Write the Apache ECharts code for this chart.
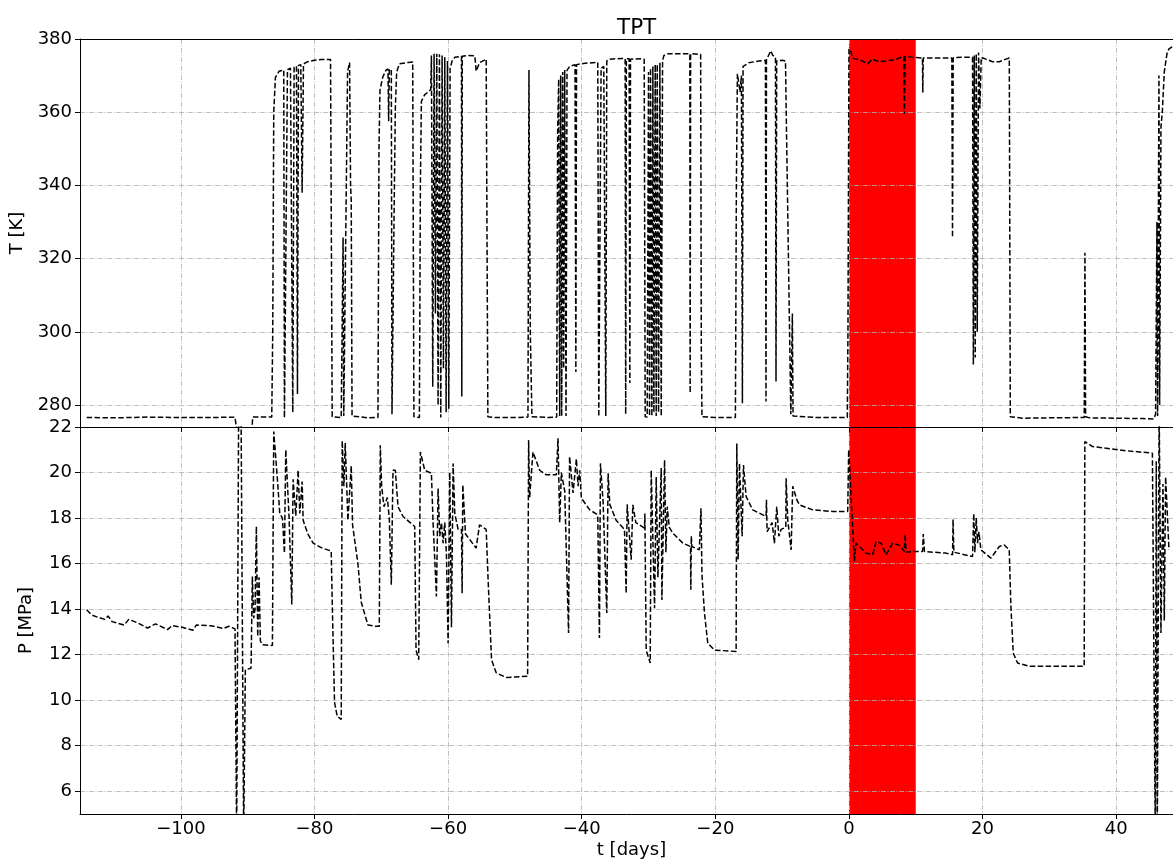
<!DOCTYPE html>
<html><head><meta charset="utf-8">
<script src="https://cdn.jsdelivr.net/npm/echarts@6/dist/echarts.min.js"></script>
<style>html,body{margin:0;padding:0;background:#fff}#c{width:1173px;height:862px}</style>
</head><body><div id="c"></div>
<script>
// ---- data ----
const tempTimes = [-114.1,-110,-105,-100,-95,-91.9,-91.7,-91.55,-89.4,-89.25,-86.4,-86.25,-86.1,-85.85,-85.3,-84.6,-84.5,-84.25,-84.05,-83.6,-83.35,-83.25,-83.05,-82.7,-82.55,-82.4,-82.05,-81.85,-81.65,-81,-80,-79,-77.6,-77.35,-76,-75.8,-75.72,-75.62,-75.35,-75.05,-74.75,-74.6,-74.5,-74.38,-72,-70.5,-70.35,-70.2,-69.8,-69.3,-69.0,-68.9,-68.8,-68.5,-68.4,-68.1,-67.9,-67.7,-67.3,-66,-65.3,-65.12,-64.3,-64.15,-64.0,-63.5,-63.0,-62.6,-62.5,-62.3,-62.1,-61.9,-61.7,-61.5,-61.3,-61.1,-60.9,-60.7,-60.5,-60.3,-60.1,-59.9,-59.7,-59.4,-59,-58,-57.95,-57.88,-57,-56,-55.8,-55.3,-54.3,-54.05,-53,-50,-48.05,-47.9,-47.7,-47.45,-45,-43.75,-43.6,-43.45,-43.3,-43.15,-43.0,-42.85,-42.7,-42.55,-42.35,-42.2,-41.8,-41.0,-40.88,-40.78,-39.5,-37.6,-37.45,-37.3,-37.1,-36.7,-36.4,-36.25,-35.8,-34,-33.5,-33.42,-33.32,-32.9,-32.8,-32.7,-31,-30.65,-30.5,-30.2,-30.0,-29.85,-29.7,-29.5,-29.35,-29.2,-29.0,-28.85,-28.7,-28.5,-28.3,-28.1,-27.9,-27.7,-27,-25,-23.82,-23.77,-23.7,-22.2,-22.1,-22.0,-20,-17,-16.85,-16.7,-16.5,-16.3,-16.1,-15.95,-15.85,-15.0,-13.5,-12.5,-12.42,-12.35,-11.7,-11.4,-11.0,-10.92,-10.82,-10,-9.5,-9.4,-8.7,-8.6,-8.47,-8.37,-5,-2,-0.25,-0.15,0.0,0.3,0.5,1.2,2,2.8,3.5,4.5,5.5,7,8.2,8.3,8.4,9.5,11.0,11.05,11.12,13,15.4,15.5,15.6,17,18.5,18.62,18.75,18.9,19.05,19.2,19.4,19.6,19.8,20.5,21.5,22.5,23.5,24.0,24.15,26,30,35.22,35.32,35.42,36,40,44,45.6,45.9,46.1,46.2,46.4,46.5,46.7,46.9,47.2,47.6,47.9,48.5];
const tempValues = [276.6,276.5,276.7,276.6,276.6,276.7,276.2,272,272,276.7,276.7,300,360,369.5,371.2,371.5,276.5,276.8,371.6,372,372.2,278,372.3,372.6,283,372.8,373,338,373.2,373.8,374.2,374.4,374.4,276.8,276.6,277,325.8,277,276.8,371,373.6,340,336,277,276.5,276.6,350,366,369.5,371.5,371.8,357.5,371.5,371.8,277.5,330,361,371,373.2,373.6,373.7,276.8,276.6,340,363,364.8,365.5,366.2,375.5,285,376,305,376,280,375.8,276.6,375.5,290,375,278,374,279,372,374,375,375.3,282.3,375.3,375.5,375.4,371.2,373.5,374.5,276.8,276.6,276.6,276.7,371.5,300,276.8,276.6,276.7,355,369,277,370,277,371,290,371.5,277,371.5,372.5,373,289,373,373.4,373.6,276.8,277,372,372.5,277,374,374.5,374.7,374.6,277.5,374.6,374.6,286,374.5,374.6,374.5,276.8,276.7,371,277,372,277,372.5,278,373,277,373,278,373.5,277,374,375.5,376,376,376,283.3,376,375.8,295,276.8,276.6,276.6,340,370.5,368,365.5,370,280.5,372.5,373.5,374,374.2,281,374.3,376.8,375.5,375,286.4,374,374.2,374,361,277.5,277,305,277,276.6,276.6,276.6,300,377.3,376.5,374.8,374.5,374,373.2,374.5,373.8,374,374.4,375.3,359.5,375.2,375,374.8,365.4,374.8,374.8,374.8,325.8,374.9,375,375,291,375.5,293,376,300,376.3,361,375,374.5,373.8,373.8,374.5,374.8,276.8,276.4,276.5,276.6,321.6,276.8,276.5,276.4,276.3,276.2,277.5,330,277,370,280,356,360,371,376,377.3,378];

const presTimes = [-114.1,-113.4,-112.5,-111.4,-110.9,-110.3,-108.5,-107.8,-106.5,-105,-103.8,-102,-101.3,-99.8,-98.2,-97.7,-95.5,-93.6,-92.8,-91.9,-91.65,-91.35,-91.0,-90.6,-90.4,-90.35,-89.5,-89.3,-89.1,-88.9,-88.7,-88.5,-88.3,-88.1,-87.8,-86.3,-86.1,-85.5,-85.2,-84.8,-84.5,-84.3,-83.8,-83.4,-83.2,-82.8,-82.45,-82.2,-81.85,-81.7,-81,-80.2,-79,-77.5,-77.3,-77.0,-76.6,-76.0,-75.85,-75.6,-75.4,-75.0,-74.5,-74.3,-73.5,-73.0,-72.0,-71,-70.3,-70.15,-69.95,-69.6,-69.1,-68.8,-68.5,-68.25,-67.9,-67.5,-66.75,-65.0,-64.8,-64.4,-64.15,-63.5,-62.5,-62.25,-61.75,-61.5,-61.25,-61.0,-60.75,-60.5,-60.25,-60.0,-59.75,-59.5,-59.25,-59.0,-58.5,-58.0,-57.9,-57.8,-57.4,-55.8,-55.3,-54.3,-54.0,-53.5,-52.8,-51.3,-48.1,-47.95,-47.8,-47.3,-46.3,-45.3,-43.8,-43.55,-43.3,-43.05,-42.55,-41.97,-41.82,-41.3,-40.8,-40.55,-40.3,-40.05,-38.8,-37.6,-37.35,-37.2,-36.8,-36.25,-36.05,-35.8,-34.85,-33.6,-33.35,-33.2,-32.6,-32.35,-31.9,-30.6,-30.55,-30.35,-29.75,-29.6,-29.1,-28.85,-28.6,-28.1,-28.0,-27.6,-27.4,-27.2,-26.9,-26.37,-24.87,-23.72,-23.67,-23.6,-23.5,-22.4,-22.15,-22.0,-21.63,-21.13,-20.13,-16.89,-16.79,-16.59,-16.39,-15.99,-15.79,-15.39,-14.4,-12.4,-12.35,-12.25,-11.5,-11.16,-10.81,-10.5,-10.16,-9.45,-9.41,-9.16,-8.8,-8.66,-8.42,-7.8,-7.42,-5.43,-2.44,-0.19,-0.04,0.31,0.81,1.06,1.56,2.56,3.56,4.05,4.8,5.55,6.55,7.55,8.29,8.4,8.55,9.53,11.02,11.12,11.3,14.52,15.51,15.58,15.7,18.5,18.68,18.85,19.05,19.25,19.45,19.75,21.25,22.5,23.24,23.99,24.24,24.59,25.24,26.98,35.21,35.31,36.45,41.44,45.42,45.67,45.85,46.0,46.15,46.43,46.7,47.0,47.2,47.4,47.9];
const presValues = [13.97,13.75,13.65,13.55,13.7,13.45,13.3,13.55,13.4,13.17,13.35,13.1,13.28,13.2,13.07,13.3,13.27,13.15,13.25,13.13,4,23,23,4,4,11.34,11.4,15.43,13.6,14.0,17.63,12.8,15.4,12.6,12.44,12.4,21.8,19.5,18.2,18.0,16.46,21.0,18.0,14.2,19.7,18.1,20.1,18.2,19.6,17.9,17.3,16.9,16.7,16.55,13.7,9.9,9.3,9.15,21.4,19.4,21.3,17.9,20.3,17.7,16.0,14.3,13.3,13.25,13.25,21.2,19.4,18.5,18.9,17.96,15.07,20.1,20.1,18.5,18.07,17.63,12.2,11.78,20.9,20.1,19.97,17.8,14.56,19.3,17.2,17.8,16.9,17.8,16.4,12.5,20.0,13.2,20.4,18.2,17.5,17.5,14.7,19.46,17.3,16.68,17.7,17.5,15.2,11.78,11.2,11.0,11.05,21.43,18.9,20.9,20.1,19.9,19.9,21.5,17.8,20.0,19.2,12.95,20.7,19.1,20.6,19.4,20.1,18.87,18.36,18.14,12.73,20.4,18.7,13.83,19.97,18.6,17.9,17.5,14.7,18.6,16.17,18.58,17.8,17.56,18.2,12.2,11.63,20.1,14.04,19.8,15.4,20.2,14.4,20.55,16.5,18.5,17.6,17.34,16.9,16.75,14.85,17.2,16.75,16.6,18.43,15.5,13.83,12.5,12.2,12.14,21.28,16.17,20.4,17.2,20.33,18.94,18.36,18.07,18.8,17.4,17.8,16.9,18.5,17.2,17.5,17.6,19.75,17.9,17.0,16.6,19.4,18.8,18.58,18.36,18.29,18.29,21.0,19.0,16.1,16.9,16.75,16.46,16.4,16.97,16.9,16.39,16.9,16.8,16.53,17.3,16.5,16.53,16.53,17.3,16.53,16.46,16.39,17.95,16.5,16.31,18.2,16.5,18.0,16.9,17.4,16.6,16.24,16.75,16.82,16.6,14.12,12.07,11.63,11.49,11.49,21.36,21.14,20.96,20.85,20.8,4,20.5,4,23,12.95,19.5,13.5,19.8,16.6];

const xTicks = [-100, -80, -60, -40, -20, 0, 20, 40];
const tTicks = [280, 300, 320, 340, 360, 380];
const pTicks = [6, 8, 10, 12, 14, 16, 18, 20, 22];
const bandStart = [0];
const bandEnd = [10];

// ---- chart ----
const FONT = 'DejaVu Sans';
const X_MIN = -115.1, X_MAX = 50;
const T_MIN = 274, T_MAX = 380;
const P_MIN = 5, P_MAX = 22;

const zip = (a, b) => a.map((v, i) => [v, b[i]]);
const fmtNum = v => (v < 0 ? '\u2212' + Math.abs(v) : String(v));
const gridLine = { show: true,
  lineStyle: { color: '#b0b0b0', width: 0.8, type: [5, 1.5, 1, 1.5] } };
const txt = { color: '#000', fontFamily: FONT, fontSize: 18 };

function xAxisCfg(g, withLabels) {
  return {
    type: 'value', gridIndex: g, min: X_MIN, max: X_MAX, splitNumber: 8, position: 'bottom',
    axisLine: { show: true, onZero: false, lineStyle: { color: '#000', width: 1 } },
    axisTick: { show: true, length: 5, customValues: xTicks, lineStyle: { color: '#000', width: 1 } },
    axisLabel: Object.assign({ show: withLabels, customValues: xTicks,
      formatter: fmtNum, margin: 6 }, txt),
    splitLine: gridLine,
    name: withLabels ? 't [days]' : '', nameLocation: 'middle', nameGap: 27,
    nameTextStyle: txt
  };
}
function yAxisCfg(g, min, max, split, ticks, name) {
  return {
    type: 'value', gridIndex: g, min: min, max: max, splitNumber: split,
    axisLine: { show: true, onZero: false, lineStyle: { color: '#000', width: 1 } },
    axisTick: { show: true, length: 5, customValues: ticks, lineStyle: { color: '#000', width: 1 } },
    axisLabel: Object.assign({ customValues: ticks, margin: 8, formatter: fmtNum }, txt),
    splitLine: gridLine,
    name: name, nameLocation: 'middle', nameRotate: 90, nameGap: 45, nameTextStyle: txt
  };
}
function band(xi, yi, ymin, ymax) {
  return {
    type: 'custom', xAxisIndex: xi, yAxisIndex: yi, z: -1, silent: true,
    data: bandStart.map((s, i) => [s, bandEnd[i]]),
    encode: { x: [0, 1] },
    renderItem: function (params, api) {
      const p0 = api.coord([api.value(0), ymax]);
      const p1 = api.coord([api.value(1), ymin]);
      return { type: 'rect', shape: { x: p0[0], y: p0[1], width: p1[0] - p0[0], height: p1[1] - p0[1] },
        style: { fill: '#ff0000' } };
    }
  };
}
const lineStyle = { color: '#000', width: 1.5, type: [5.5, 2.4] };

const chart = echarts.init(document.getElementById('c'), null, { renderer: 'canvas' });
chart.setOption({
  animation: false,
  backgroundColor: '#fff',
  textStyle: { fontFamily: FONT },
  title: { text: 'TPT', left: 612, top: 12,
    textStyle: { color: '#000', fontFamily: FONT, fontSize: 21.5, fontWeight: 'normal' } },
  grid: [
    { left: 80, top: 39, width: 1103, height: 388, containLabel: false, outerBoundsMode: 'none' },
    { left: 80, top: 427, width: 1103, height: 387, containLabel: false, outerBoundsMode: 'none' }
  ],
  xAxis: [
    xAxisCfg(0, false),
    xAxisCfg(1, true),
    { type: 'value', gridIndex: 0, min: X_MIN, max: X_MAX, position: 'top',
      axisLine: { show: true, onZero: false, lineStyle: { color: '#000', width: 1 } },
      axisTick: { show: false }, axisLabel: { show: false }, splitLine: { show: false } }
  ],
  yAxis: [
    yAxisCfg(0, T_MIN, T_MAX, 5, tTicks, 'T [K]'),
    yAxisCfg(1, P_MIN, P_MAX, 8, pTicks, 'P [MPa]')
  ],
  series: [
    band(0, 0, T_MIN, T_MAX),
    band(1, 1, P_MIN, P_MAX),
    { type: 'line', xAxisIndex: 0, yAxisIndex: 0, data: zip(tempTimes, tempValues),
      showSymbol: false, symbol: 'none', lineStyle: lineStyle, z: 3, clip: true, silent: true },
    { type: 'line', xAxisIndex: 1, yAxisIndex: 1, data: zip(presTimes, presValues),
      showSymbol: false, symbol: 'none', lineStyle: lineStyle, z: 3, clip: true, silent: true }
  ]
});
</script>
</body></html>
